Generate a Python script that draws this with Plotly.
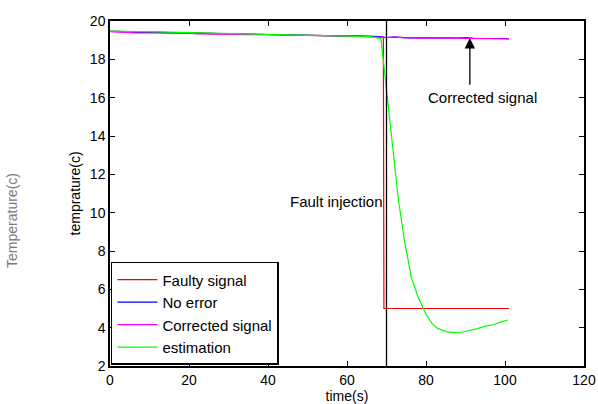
import plotly.graph_objects as go

# ---- data ----
# pre-fault sampling times (s)
t_pre = [0, 2, 4, 6, 8, 10, 12, 14, 16, 18, 20, 22, 24, 26, 28, 30, 32, 34,
         36, 38, 40, 42, 44, 46, 48, 50, 52, 54, 56, 58, 60, 62, 64, 66, 68]
no_error_pre = [19.46, 19.46, 19.45, 19.42, 19.43, 19.41, 19.41, 19.40, 19.40,
                19.40, 19.39, 19.36, 19.36, 19.36, 19.34, 19.33, 19.33, 19.32,
                19.32, 19.31, 19.31, 19.30, 19.28, 19.28, 19.26, 19.24, 19.24,
                19.23, 19.23, 19.22, 19.22, 19.22, 19.21, 19.20, 19.18]
corrected_pre = [19.45, 19.44, 19.40, 19.38, 19.38, 19.38, 19.37, 19.37, 19.37,
                 19.36, 19.36, 19.33, 19.33, 19.33, 19.31, 19.30, 19.30, 19.29,
                 19.30, 19.29, 19.29, 19.27, 19.26, 19.27, 19.25, 19.23, 19.23,
                 19.22, 19.22, 19.21, 19.21, 19.21, 19.20, 19.18, 19.15]
estimation_pre = [19.47, 19.47, 19.46, 19.45, 19.45, 19.44, 19.43, 19.42, 19.42,
                  19.41, 19.40, 19.39, 19.39, 19.39, 19.37, 19.36, 19.35, 19.34,
                  19.33, 19.32, 19.32, 19.31, 19.31, 19.30, 19.28, 19.26, 19.25,
                  19.24, 19.24, 19.23, 19.23, 19.22, 19.21, 19.18, 19.10]

# post-fault sampling times (s)
t_post = [70, 72, 74, 76, 78, 80, 82, 84, 86, 88, 90, 92, 94, 96, 98, 100, 101]
no_error_post = [19.14, 19.16, 19.13, 19.12, 19.12, 19.12, 19.15, 19.13, 19.12,
                 19.11, 19.13, 19.10, 19.10, 19.09, 19.08, 19.08, 19.08]
corrected_post = [19.13, 19.17, 19.13, 19.11, 19.11, 19.11, 19.13, 19.12, 19.11,
                  19.10, 19.12, 19.09, 19.09, 19.08, 19.07, 19.07, 19.07]

# faulty sensor: stuck at a low reading after the fault
fault_time = 70
t_fault_drop = [68, 69.2, 69.35, 101]
faulty_post = [19.18, 19.15, 5.0, 5.0]

# estimator response after the fault
t_est_post = [68.6, 70, 71.5, 73, 74.5, 76.3, 78, 79, 80, 81.6, 83, 85.4, 87,
              89, 91, 93, 95, 97, 99, 100.7]
estimation_post = [19.08, 16.4, 13.3, 10.7, 8.6, 6.6, 5.6, 5.1, 4.7, 4.2, 3.95,
                   3.78, 3.75, 3.76, 3.85, 3.95, 4.08, 4.15, 4.3, 4.4]

faulty_t = t_pre[:-1] + t_fault_drop
faulty_v = no_error_pre[:-1] + faulty_post
time_all = t_pre + t_post
no_error_v = no_error_pre + no_error_post
corrected_v = corrected_pre + corrected_post
est_t = t_pre[:-1] + t_est_post
est_v = estimation_pre[:-1] + estimation_post

x_ticks = [0, 20, 40, 60, 80, 100, 120]
y_ticks = [2, 4, 6, 8, 10, 12, 14, 16, 18, 20]

FONT = "Liberation Sans, Arial, sans-serif"

fig = go.Figure()
fig.add_trace(go.Scatter(x=faulty_t, y=faulty_v, mode="lines", name="Faulty signal",
                         line=dict(color="#ff0000", width=1.2)))
fig.add_trace(go.Scatter(x=time_all, y=no_error_v, mode="lines", name="No error",
                         line=dict(color="#0000ff", width=1.2)))
fig.add_trace(go.Scatter(x=time_all, y=corrected_v, mode="lines", name="Corrected signal",
                         line=dict(color="#ff00ff", width=1.2)))
fig.add_trace(go.Scatter(x=est_t, y=est_v, mode="lines", name="estimation",
                         line=dict(color="#00ff00", width=1.2)))

# fault injection marker
fig.add_shape(type="line", x0=fault_time, x1=fault_time, y0=2, y1=20,
              xref="x", yref="y", line=dict(color="black", width=1.3))

fig.add_annotation(x=69.6, y=10.6, text="Fault injection", showarrow=False,
                   xanchor="right", yanchor="middle",
                   font=dict(family=FONT, size=15, color="black"))
fig.add_annotation(x=94.2, y=16.0, text="Corrected signal", showarrow=False,
                   xanchor="center", yanchor="middle",
                   font=dict(family=FONT, size=15, color="black"))
fig.add_annotation(x=91.1, y=19.11, ax=91.1, ay=16.6, xref="x", yref="y",
                   axref="x", ayref="y", text="", showarrow=True,
                   arrowhead=2, arrowsize=1.6, arrowwidth=1.3, arrowcolor="black")

# y-axis title
fig.add_annotation(x=-0.074, y=0.5, xref="paper", yref="paper",
                   text="temprature(c)", textangle=-90, showarrow=False,
                   xanchor="center", yanchor="middle",
                   font=dict(family=FONT, size=14, color="black"))

# faint side label
fig.add_annotation(x=-0.207, y=0.423, xref="paper", yref="paper",
                   text="Temperature(c)", textangle=-90, showarrow=False,
                   xanchor="center", yanchor="middle",
                   font=dict(family=FONT, size=14, color="#7a7a7a"))

axis_common = dict(showgrid=False, zeroline=False, showline=True, linecolor="black",
                   linewidth=1.5, mirror="ticks", ticks="inside", ticklen=5,
                   tickcolor="black", tickwidth=1, automargin=False,
                   tickfont=dict(family=FONT, size=14, color="black"))

fig.update_xaxes(range=[0, 120], tickvals=x_ticks,
                 title=dict(text="time(s)", font=dict(family=FONT, size=14, color="black")),
                 **axis_common)
fig.update_yaxes(range=[2, 20], tickvals=y_ticks, **axis_common)

fig.update_layout(
    width=598, height=404,
    margin=dict(l=110, r=14, t=21, b=38),
    paper_bgcolor="white", plot_bgcolor="white",
    font=dict(family=FONT, size=14, color="black"),
    legend=dict(x=0.002, y=0.003, xanchor="left", yanchor="bottom",
                bgcolor="white", bordercolor="black", borderwidth=1.5,
                font=dict(family=FONT, size=15, color="black"),
                tracegroupgap=0, itemwidth=40),
    showlegend=True,
)

fig.write_html("out.html")
